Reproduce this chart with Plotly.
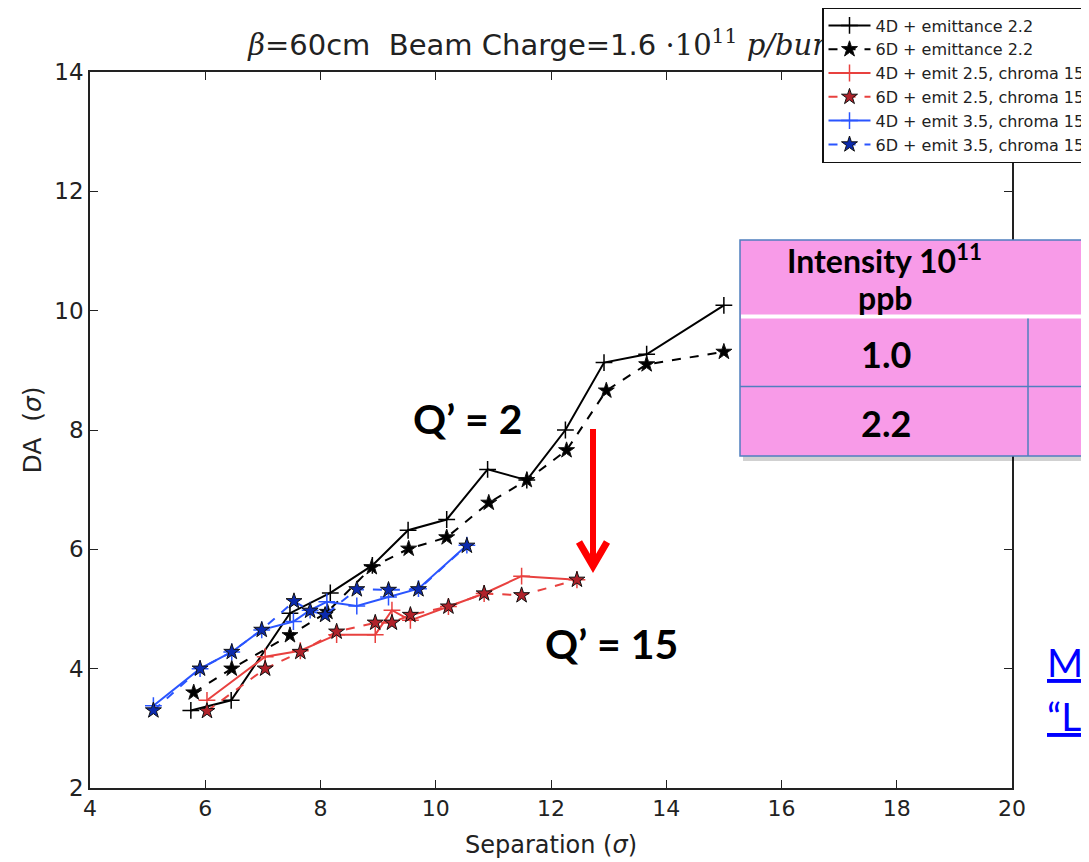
import plotly.graph_objects as go

W, H = 1089, 862
OFF = 8  # page body margin of the html page

# ---------------- data ----------------
bk4_x = [5.75, 6.45, 7.47, 8.17, 8.9, 9.52, 10.19, 10.9, 11.58, 12.25, 12.92, 13.66, 15.0]
bk4_y = [3.3, 3.47, 4.93, 5.27, 5.73, 6.32, 6.5, 7.34, 7.16, 8.0, 9.13, 9.27, 10.09]

bk6_x = [5.8, 6.46, 7.47, 8.12, 8.89, 9.53, 10.19, 10.92, 11.58, 12.27, 12.96, 13.66, 15.0]
bk6_y = [3.6, 4.0, 4.56, 4.95, 5.70, 6.01, 6.20, 6.78, 7.16, 7.66, 8.66, 9.10, 9.31]

rd4_x = [6.03, 7.04, 7.65, 8.28, 8.95, 9.24, 9.56, 10.22, 10.84, 11.49, 12.45]
rd4_y = [3.47, 4.2, 4.3, 4.57, 4.57, 4.98, 4.81, 5.04, 5.26, 5.55, 5.49]

rd6_x = [6.03, 7.04, 7.65, 8.28, 8.95, 9.24, 9.56, 10.22, 10.84, 11.49, 12.45]
rd6_y = [3.29, 4.0, 4.28, 4.62, 4.77, 4.77, 4.90, 5.04, 5.26, 5.23, 5.49]

bl4_x = [5.1, 5.91, 6.46, 6.98, 7.53, 7.82, 8.11, 8.63, 9.18, 9.70, 10.54]
bl4_y = [3.38, 4.0, 4.28, 4.65, 4.79, 4.98, 5.12, 5.05, 5.2, 5.34, 6.07]

bl6_x = [5.1, 5.91, 6.46, 6.98, 7.54, 7.82, 8.08, 8.63, 9.18, 9.70, 10.54]
bl6_y = [3.3, 4.0, 4.28, 4.65, 5.13, 4.97, 4.90, 5.33, 5.32, 5.33, 6.06]

series_names = [
    "4D + emittance 2.2",
    "6D + emittance 2.2",
    "4D + emit 2.5, chroma 15",
    "6D + emit 2.5, chroma 15",
    "4D + emit 3.5, chroma 15",
    "6D + emit 3.5, chroma 15",
]

x_ticks = [4, 6, 8, 10, 12, 14, 16, 18, 20]
y_ticks = [2, 4, 6, 8, 10, 12, 14]

title_text = ("<span style='font-family:DejaVu Serif'><i>β</i></span>=60cm\u00a0\u00a0Beam Charge=1.6"
              "<span style='font-family:DejaVu Serif'>\u00a0·10<sup>11</sup>\u00a0<i>p/bunch</i></span>")
table_header_1 = "Intensity 10<sup>11</sup>"
table_header_2 = "ppb"
table_rows = ["1.0", "2.2"]

# ---------------- styles ----------------
BLACK = "#000000"
RED_LINE = "#E8413F"
RED_STAR = "#B0222A"
BLUE_LINE = "#2A55FF"
BLUE_STAR = "#0B2AAE"

fig = go.Figure()

def add4(x, y, name, color):
    fig.add_trace(go.Scatter(
        x=x, y=y, name=name, mode="lines+markers",
        line=dict(color=color, width=2),
        marker=dict(symbol="cross-thin", size=12, color=color,
                    line=dict(color=color, width=1.5)),
    ))

def add6(x, y, name, color, starcolor):
    fig.add_trace(go.Scatter(
        x=x, y=y, name=name, mode="lines+markers",
        line=dict(color=color, width=2, dash="dash"),
        marker=dict(symbol="star", size=12, color=starcolor,
                    line=dict(color="#111111", width=1)),
    ))

add4(bk4_x, bk4_y, series_names[0], BLACK)
add6(bk6_x, bk6_y, series_names[1], BLACK, BLACK)
add4(rd4_x, rd4_y, series_names[2], RED_LINE)
add6(rd6_x, rd6_y, series_names[3], RED_LINE, RED_STAR)
add4(bl4_x, bl4_y, series_names[4], BLUE_LINE)
add6(bl6_x, bl6_y, series_names[5], BLUE_LINE, BLUE_STAR)

# plot area in window pixels
PL, PR, PT, PB = 90, 1012, 72, 788

def px(xp):
    return (xp - OFF) / W

def py(yp):
    return 1 - (yp - OFF) / H

# title drawn as a text trace on a full-figure overlay subplot so the legend box covers it
fig.add_trace(go.Scatter(
    x=[px(557)], y=[py(48)], mode="text", text=[title_text],
    textposition="middle center",
    textfont=dict(family="DejaVu Sans", size=29, color="#222222"),
    xaxis="x2", yaxis="y2", showlegend=False, hoverinfo="skip", cliponaxis=False,
))

axis_common = dict(
    showgrid=False, zeroline=False, showline=True, linecolor="#222222",
    linewidth=1.6, mirror="ticks", ticks="inside", ticklen=8, tickwidth=1.2,
    tickcolor="#222222",
)

fig.update_layout(
    width=W, height=H,
    margin=dict(l=0, r=0, t=0, b=0, autoexpand=False),
    paper_bgcolor="white", plot_bgcolor="rgba(0,0,0,0)",
    xaxis=dict(
        domain=[px(PL), px(PR)], range=[4, 20], tickvals=x_ticks,
        tickfont=dict(family="DejaVu Sans", size=22, color="#222222"),
        title=dict(text="Separation (<i>σ</i>)",
                   font=dict(family="DejaVu Sans", size=24, color="#222222"),
                   standoff=16),
        **axis_common,
    ),
    yaxis=dict(
        domain=[py(PB), py(PT)], range=[2, 14], tickvals=y_ticks,
        tickfont=dict(family="DejaVu Sans", size=23, color="#222222"),
        title=dict(text="DA  (<i>σ</i>)",
                   font=dict(family="DejaVu Sans", size=25, color="#222222"),
                   standoff=6),
        **axis_common,
    ),
    xaxis2=dict(domain=[0, 1], range=[0, 1], visible=False, fixedrange=True),
    yaxis2=dict(domain=[0, 1], range=[0, 1], visible=False, fixedrange=True, anchor="x2"),
    showlegend=True,
    legend=dict(
        x=px(822), y=py(7), xanchor="left", yanchor="top",
        bgcolor="white", bordercolor="#111111", borderwidth=1.5,
        font=dict(family="DejaVu Sans", size=16, color="#222222"),
        tracegroupgap=0, itemwidth=42,
    ),
)

shapes = []
TB_L, TB_T, TB_B = 740, 240, 456
# table shadow
shapes.append(dict(type="rect", xref="paper", yref="paper",
                   x0=px(TB_L + 3), x1=px(1120), y0=py(TB_B + 5), y1=py(TB_T + 4),
                   fillcolor="rgba(0,0,0,0.18)", line=dict(width=0), layer="above"))
# table body
shapes.append(dict(type="rect", xref="paper", yref="paper",
                   x0=px(TB_L), x1=px(1120), y0=py(TB_B), y1=py(TB_T),
                   fillcolor="#F89BE8", line=dict(color="#4F7FBF", width=1.5), layer="above"))
# white header separator
shapes.append(dict(type="line", xref="paper", yref="paper",
                   x0=px(TB_L + 1), x1=px(1120), y0=py(316.5), y1=py(316.5),
                   line=dict(color="white", width=4), layer="above"))
# row separator
shapes.append(dict(type="line", xref="paper", yref="paper",
                   x0=px(TB_L), x1=px(1120), y0=py(386.5), y1=py(386.5),
                   line=dict(color="#4F7FBF", width=1.5), layer="above"))
# column separator
shapes.append(dict(type="line", xref="paper", yref="paper",
                   x0=px(1028), x1=px(1028), y0=py(318.5), y1=py(TB_B),
                   line=dict(color="#4F7FBF", width=1.5), layer="above"))
# red arrow
shapes.append(dict(type="line", xref="paper", yref="paper",
                   x0=px(593), x1=px(593), y0=py(429), y1=py(564),
                   line=dict(color="#FF0000", width=6), layer="above"))
shapes.append(dict(type="path", xref="paper", yref="paper",
                   path=(f"M {px(579)},{py(542)} L {px(593)},{py(566)} L {px(607)},{py(542)}"),
                   line=dict(color="#FF0000", width=7), layer="above"))

annotations = []
def ann(x, y, text, font, xanchor="center"):
    annotations.append(dict(xref="paper", yref="paper", x=px(x), y=py(y),
                            text=text, showarrow=False, xanchor=xanchor,
                            yanchor="middle", font=font))

tfont = dict(family="Lato", size=32, color="black")
ann(884, 259, "<b>" + table_header_1 + "</b>", tfont)
ann(885, 297, "<b>" + table_header_2 + "</b>", tfont)
ann(886, 354, "<b>" + table_rows[0] + "</b>", dict(family="Lato", size=36, color="black"))
ann(886, 423, "<b>" + table_rows[1] + "</b>", dict(family="Lato", size=36, color="black"))
qfont = dict(family="Lato", size=41, color="black")
ann(467, 418, "<b>Q’ = 2</b>", qfont)
ann(611, 643, "<b>Q’ = 15</b>", qfont)
lfont = dict(family="Lato", size=39, color="#0000FF")
ann(1045, 662, "<u>M</u>", lfont, xanchor="left")
ann(1045, 716, "<u>“L</u>", lfont, xanchor="left")

fig.update_layout(shapes=shapes, annotations=annotations)

fig.write_html("out.html")
